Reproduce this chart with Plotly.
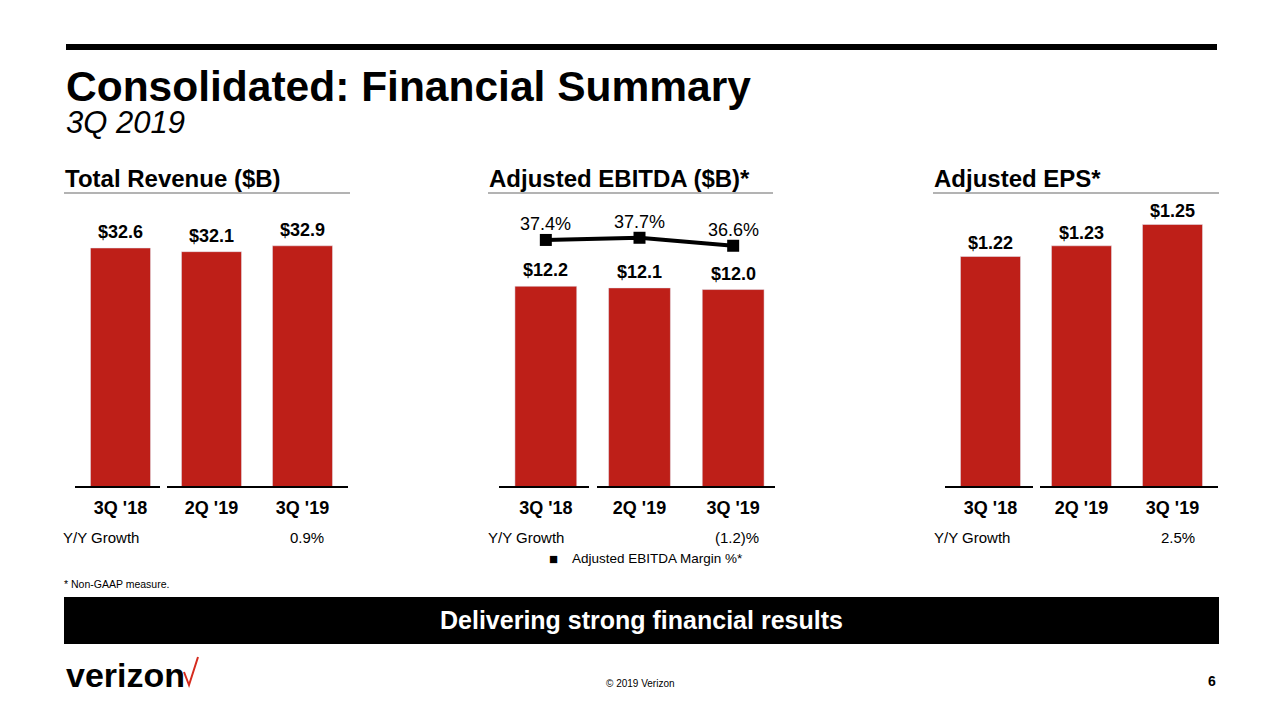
import plotly.graph_objects as go

# ---- data ----
quarters = ["3Q '18", "2Q '19", "3Q '19"]
revenue = [32.6, 32.1, 32.9]
revenue_labels = ["$32.6", "$32.1", "$32.9"]
ebitda = [12.2, 12.1, 12.0]
ebitda_labels = ["$12.2", "$12.1", "$12.0"]
margin = [37.4, 37.7, 36.6]
margin_labels = ["37.4%", "37.7%", "36.6%"]
eps = [1.22, 1.23, 1.25]
eps_labels = ["$1.22", "$1.23", "$1.25"]
yy_growth = ["0.9%", "(1.2)%", "2.5%"]
headings = ["Total Revenue ($B)", "Adjusted EBITDA ($B)*", "Adjusted EPS*"]

W, H = 1280, 721
FONT = "Liberation Sans, Arial, sans-serif"
RED = "#BE1F18"


def px(x):
    return x / W


def py(y):
    return 1 - y / H


fig = go.Figure()

fig.add_trace(go.Bar(x=quarters, y=revenue, marker_color=RED, xaxis="x", yaxis="y",
                     showlegend=False, hoverinfo="x+y"))
fig.add_trace(go.Bar(x=quarters, y=ebitda, marker_color=RED, xaxis="x2", yaxis="y2",
                     showlegend=False, hoverinfo="x+y"))
fig.add_trace(go.Scatter(x=quarters, y=margin, mode="lines+markers", xaxis="x2", yaxis="y4",
                         line=dict(color="black", width=4),
                         marker=dict(symbol="square", size=12, color="black"),
                         name="Adjusted EBITDA Margin %*", showlegend=False))
fig.add_trace(go.Bar(x=quarters, y=eps, marker_color=RED, xaxis="x3", yaxis="y3",
                     showlegend=False, hoverinfo="x+y"))

ydom = [py(487), py(190)]
xfont = dict(family=FONT, size=18, color="black", weight="bold")
xcommon = dict(showgrid=False, zeroline=False, showline=False, ticks="outside", ticklen=4,
               tickcolor="rgba(0,0,0,0)", tickfont=xfont, fixedrange=True)
ycommon = dict(visible=False, showgrid=False, zeroline=False, fixedrange=True)

fig.update_layout(
    width=W, height=H, autosize=False,
    margin=dict(l=0, r=0, t=0, b=0),
    paper_bgcolor="white", plot_bgcolor="white",
    font=dict(family=FONT, color="black"),
    bargap=0.34,
    xaxis=dict(domain=[px(75), px(348)], anchor="y", **xcommon),
    yaxis=dict(domain=ydom, anchor="x", range=[0, 40.51], **ycommon),
    xaxis2=dict(domain=[px(499), px(780)], anchor="y2", **xcommon),
    yaxis2=dict(domain=ydom, anchor="x2", range=[0, 18.05], **ycommon),
    xaxis3=dict(domain=[px(945), px(1218)], anchor="y3", **xcommon),
    yaxis3=dict(domain=ydom, anchor="x3", range=[1.004, 1.2823], **ycommon),
    yaxis4=dict(overlaying="y2", anchor="x2", range=[3.42, 44.27], **ycommon),
)

ann = []
# value labels above bars
for xa, ya, vals, labs, ys in [("x", "y", revenue, revenue_labels, 4),
                               ("x2", "y2", ebitda, ebitda_labels, 4),
                               ("x3", "y3", eps, eps_labels, 1)]:
    for q, v, t in zip(quarters, vals, labs):
        ann.append(dict(x=q, y=v, xref=xa, yref=ya, text="<b>" + t + "</b>", showarrow=False,
                        yanchor="bottom", yshift=ys, font=dict(size=18, color="black", family=FONT)))
# margin labels
for q, v, t in zip(quarters, margin, margin_labels):
    ann.append(dict(x=q, y=v, xref="x2", yref="y4", text=t, showarrow=False,
                    yanchor="bottom", yshift=4, font=dict(size=18, color="black", family=FONT)))

# title
ann.append(dict(x=px(64), y=py(87), xref="paper", yref="paper", xanchor="left", yanchor="middle",
                text="<b>Consolidated: Financial Summary</b>", showarrow=False,
                font=dict(size=42.5, color="black", family=FONT)))
ann.append(dict(x=px(64), y=py(122), xref="paper", yref="paper", xanchor="left", yanchor="middle",
                text="<i>3Q 2019</i>", showarrow=False,
                font=dict(size=31, color="black", family=FONT)))

# headings
for hx, t in zip([63, 487, 932], headings):
    ann.append(dict(x=px(hx), y=py(178), xref="paper", yref="paper", xanchor="left", yanchor="middle",
                    text="<b>" + t + "</b>", showarrow=False,
                    font=dict(size=24, color="black", family=FONT)))

# Y/Y growth rows
for gx, vx, v in zip([61, 486, 932], [326, 761, 1197], yy_growth):
    ann.append(dict(x=px(gx), y=py(537), xref="paper", yref="paper", xanchor="left", yanchor="middle",
                    text="Y/Y Growth", showarrow=False, font=dict(size=15, color="black", family=FONT)))
    ann.append(dict(x=px(vx), y=py(537), xref="paper", yref="paper", xanchor="right", yanchor="middle",
                    text=v, showarrow=False, font=dict(size=15, color="black", family=FONT)))

# legend for margin line
ann.append(dict(x=px(553), y=py(558), xref="paper", yref="paper", xanchor="center", yanchor="middle",
                text="■", showarrow=False, font=dict(size=15, color="black", family=FONT)))
ann.append(dict(x=px(570), y=py(558), xref="paper", yref="paper", xanchor="left", yanchor="middle",
                text="Adjusted EBITDA Margin %*", showarrow=False,
                font=dict(size=13.5, color="black", family=FONT)))

# footnote
ann.append(dict(x=px(62), y=py(584), xref="paper", yref="paper", xanchor="left", yanchor="middle",
                text="* Non-GAAP measure.", showarrow=False, font=dict(size=10.5, color="black", family=FONT)))

# banner text
ann.append(dict(x=px(641), y=py(620), xref="paper", yref="paper", xanchor="center", yanchor="middle",
                text="<b>Delivering strong financial results</b>", showarrow=False,
                font=dict(size=25, color="white", family=FONT)))

# footer
ann.append(dict(x=px(64), y=py(675), xref="paper", yref="paper", xanchor="left", yanchor="middle",
                text="<b>verizon</b>", showarrow=False, font=dict(size=34, color="black", family=FONT)))
ann.append(dict(x=px(640), y=py(683), xref="paper", yref="paper", xanchor="center", yanchor="middle",
                text="© 2019 Verizon", showarrow=False, font=dict(size=10, color="black", family=FONT)))
ann.append(dict(x=px(1218), y=py(681), xref="paper", yref="paper", xanchor="right", yanchor="middle",
                text="<b>6</b>", showarrow=False, font=dict(size=14, color="black", family=FONT)))

shapes = []
# top rule
shapes.append(dict(type="line", xref="paper", yref="paper", x0=px(66), x1=px(1217), y0=py(47), y1=py(47),
                   line=dict(color="black", width=6)))
# heading underlines
for x0, x1 in [(64, 350), (488, 773), (933, 1219)]:
    shapes.append(dict(type="line", xref="paper", yref="paper", x0=px(x0), x1=px(x1), y0=py(193), y1=py(193),
                       line=dict(color="#9a9a9a", width=1.5)))
# baselines
for x0, x1 in [(75, 160), (167, 348), (499, 589), (597, 775), (945, 1033), (1040, 1218)]:
    shapes.append(dict(type="line", xref="paper", yref="paper", x0=px(x0), x1=px(x1), y0=py(487), y1=py(487),
                       line=dict(color="black", width=2)))
# banner
shapes.append(dict(type="rect", xref="paper", yref="paper", x0=px(64), x1=px(1219), y0=py(644), y1=py(597),
                   fillcolor="black", line=dict(width=0), layer="below"))
# logo check mark
shapes.append(dict(type="path", xref="paper", yref="paper",
                   path=f"M {px(184)},{py(672)} L {px(189)},{py(685)} L {px(198)},{py(657)}",
                   line=dict(color="#D52B1E", width=2)))

fig.update_layout(annotations=ann, shapes=shapes)

fig.write_html("out.html", config={"displayModeBar": False},
               post_script="document.body.style.margin='0';document.body.style.overflow='hidden';")
